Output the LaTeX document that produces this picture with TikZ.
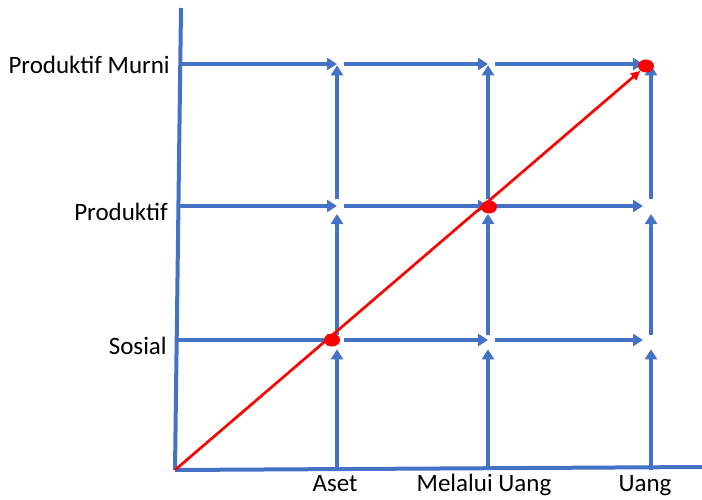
\documentclass[tikz,border=0pt]{standalone}
\usepackage{fontspec}
\setmainfont{Carlito}
\usetikzlibrary{arrows.meta,shapes.geometric}
\definecolor{gridblue}{HTML}{4472C4}
\definecolor{pathred}{HTML}{FF0000}
\tikzset{
    axisline/.style={draw=gridblue,line width=3pt},
    flow/.style={draw=gridblue,line width=3pt,-{Triangle[length=7.5pt,width=9pt]}},
    redpath/.style={draw=pathred,line width=2pt,-{Triangle[length=7pt,width=6.5pt]}},
    reddot/.style={ellipse,fill=pathred,minimum width=12pt,minimum height=9.75pt,inner sep=0pt},
    lbl/.style={font=\fontsize{18.75pt}{22pt}\selectfont,inner sep=0pt}
}

\begin{document}
\begin{tikzpicture}[x=0.75pt,y=-0.75pt]
    \useasboundingbox (0,0) rectangle (702,499);
    % axes
    \coordinate (o) at (175,470);
    \coordinate (ytop) at (181,8);
    \coordinate (xend) at (702,467);
    \coordinate (yS) at (177,340);
    \coordinate (yP) at (179,206);
    \coordinate (yM) at (181,64);
    % grid points
    \foreach \col/\x in {a/337,m/488,u/651}{
        \coordinate (\col0) at (\x,470);
        \coordinate (\col S) at (\x,340);
        \coordinate (\col P) at (\x,206);
        \coordinate (\col M) at (\x,64);
    }
    \draw[axisline] (o) -- (ytop);
    \draw[axisline] (o) -- (xend);
%
    \foreach \col in {a,m,u}{
        \draw[flow,shorten >=7pt] (\col0) -- (\col S);
        \draw[flow,shorten <=4pt,shorten >=6pt] (\col S) -- (\col P);
        \draw[flow,shorten <=5pt,shorten >=1pt] (\col P) -- (\col M);
    }
    \foreach \row in {S,P,M}{
        \draw[flow] (y\row) -- (a\row);
        \draw[flow,shorten <=5pt] (a\row) -- (m\row);
        \draw[flow,shorten <=5pt,shorten >=6pt] (m\row) -- (u\row);
    }
%
    \node[reddot] (dotS) at (332,340) {};
    \node[reddot] (dotP) at (489,207) {};
    \node[reddot] (dotM) at (646,66) {};
    \draw[redpath] (o) -- (dotM);
%
    \node[lbl,anchor=base east] (lblM) at (170,74) {Produktif Murni};
    \node[lbl,anchor=base east] (lblP) at (168,220) {Produktif};
    \node[lbl,anchor=base east] (lblS) at (167,354) {Sosial};
    \node[lbl,anchor=base] (lblA) at (335,491) {Aset};
    \node[lbl,anchor=base] (lblMU) at (484,491) {Melalui Uang};
    \node[lbl,anchor=base] (lblU) at (645,491) {Uang};
\end{tikzpicture}
\end{document}
